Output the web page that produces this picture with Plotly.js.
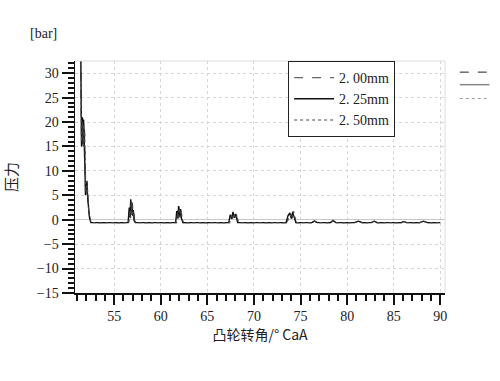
<!DOCTYPE html>
<html><head><meta charset="utf-8">
<script src="https://cdn.plot.ly/plotly-3.0.1.min.js"></script>
<style>html,body{margin:0;padding:0;background:#fff}#chart{width:500px;height:381px}</style>
</head><body><div id="chart"></div>
<script>
// Series names
const seriesNames = ['2. 00mm', '2. 25mm', '2. 50mm'];

// 2.00mm (dashed)
const x200 = [51.42,51.5,51.6,51.66,51.72,51.77,51.82,51.88,51.94,52.0,52.05,52.1,52.16,52.24,52.36,52.5,
  56.55,56.64,56.72,56.8,56.87,56.94,57.0,57.08,57.18,57.3,
  61.65,61.75,61.85,61.95,62.05,62.15,62.25,62.4,
  67.35,67.5,67.65,67.8,67.95,68.1,68.3,
  73.5,73.7,73.9,74.05,74.2,74.35,74.55,
  76.2,76.5,76.8,78.2,78.5,78.8,80.8,81.2,81.6,82.6,82.9,83.2,85.8,86.1,86.4,87.8,88.2,88.6,90.0];
const y200 = [34,16,20.5,15,20,15.5,18.5,12,6,8,5,7.5,5,2.5,0.8,-0.6,
  -0.6,2,0.3,3.5,1,3,0.5,1.5,-0.3,-0.6,
  -0.6,1.5,0.2,2.6,0.5,2,0.2,-0.6,
  -0.6,0.8,0.1,1.5,0.3,1,-0.6,
  -0.6,0.6,1.1,0.2,2.0,0.5,-0.6,
  -0.6,-0.2,-0.6,-0.6,-0.1,-0.6,-0.6,-0.2,-0.6,-0.6,-0.2,-0.6,-0.6,-0.3,-0.6,-0.6,-0.2,-0.6,-0.6];

// 2.25mm (solid)
const x225 = [51.42,51.5,51.6,51.66,51.72,51.76,51.8,51.86,51.92,51.98,52.03,52.08,52.14,52.22,52.35,52.5,
  56.5,56.62,56.7,56.78,56.85,56.92,56.98,57.05,57.15,57.28,
  61.6,61.72,61.82,61.92,62.02,62.12,62.22,62.38,
  67.3,67.45,67.6,67.75,67.9,68.05,68.25,
  73.45,73.65,73.85,74.0,74.15,74.3,74.5,
  76.2,76.5,76.8,78.2,78.5,78.8,80.8,81.2,81.6,82.6,82.9,83.2,85.8,86.1,86.4,87.8,88.2,88.6,90.0];
const y225 = [34,15,21,15.5,20.5,15,19,11,5,7,5.5,8,5,2.5,0.5,-0.6,
  -0.6,2.5,0.5,4.2,1.5,3.5,0.8,2,-0.2,-0.6,
  -0.6,1.8,0.3,2.8,0.6,2.2,0.3,-0.6,
  -0.6,1.0,0.2,1.6,0.4,1.2,-0.6,
  -0.6,0.8,1.4,0.3,1.5,0.4,-0.6,
  -0.6,-0.3,-0.6,-0.6,-0.2,-0.6,-0.6,-0.3,-0.6,-0.6,-0.3,-0.6,-0.6,-0.4,-0.6,-0.6,-0.3,-0.6,-0.6];

// 2.50mm (dotted)
const x250 = [51.42,51.5,51.6,51.66,51.72,51.78,51.84,51.9,51.96,52.02,52.07,52.12,52.18,52.26,52.38,52.52,
  56.58,56.68,56.76,56.83,56.9,56.97,57.04,57.12,57.22,57.32,
  61.7,61.8,61.9,62.0,62.1,62.2,62.3,62.45,
  67.4,67.55,67.7,67.85,68.0,68.15,68.35,
  73.55,73.75,73.95,74.1,74.25,74.4,74.6,
  76.2,76.5,76.8,78.2,78.5,78.8,80.8,81.2,81.6,82.6,82.9,83.2,85.8,86.1,86.4,87.8,88.2,88.6,90.0];
const y250 = [34,16,20,15,19.5,15,18,10,5.5,7,5,7,4.5,2,0.5,-0.6,
  -0.6,1.8,0.3,3.8,1.2,3.2,0.5,1.5,-0.3,-0.6,
  -0.6,1.4,0.2,2.4,0.4,1.8,0.1,-0.6,
  -0.6,0.7,0.1,1.3,0.2,0.9,-0.6,
  -0.6,0.5,1.0,0.2,1.7,0.4,-0.6,
  -0.6,-0.3,-0.6,-0.6,-0.2,-0.6,-0.6,-0.3,-0.6,-0.6,-0.3,-0.6,-0.6,-0.3,-0.6,-0.6,-0.3,-0.6,-0.6];

const xTickVals = [55,60,65,70,75,80,85,90];
const yTickVals = [-15,-10,-5,0,5,10,15,20,25,30];

const serif = 'Liberation Serif';

const traces = [
  {x:x200, y:y200, name:seriesNames[0], mode:'lines', line:{color:'#666', width:1.2, dash:'dash'}},
  {x:x225, y:y225, name:seriesNames[1], mode:'lines', line:{color:'#111', width:1.4, dash:'solid'}},
  {x:x250, y:y250, name:seriesNames[2], mode:'lines', line:{color:'#444', width:1.2, dash:'dot'}}
];

const layout = {
  width:500, height:381,
  margin:{l:75, r:55, t:61, b:88},
  paper_bgcolor:'#fff', plot_bgcolor:'#fff',
  font:{family:serif, size:14, color:'#222'},
  showlegend:true,
  legend:{x:0.576, y:1, xanchor:'left', yanchor:'top', bgcolor:'#fff', bordercolor:'#222', borderwidth:1,
    font:{family:serif, size:14, color:'#222'}, tracegroupgap:0, itemwidth:40},
  xaxis:{range:[50.8,90.5], tickvals:xTickVals, ticks:'outside', ticklen:10, tickwidth:2, tickcolor:'#111',
    showline:true, linecolor:'#111', linewidth:1.5, showgrid:true, gridcolor:'#d6d6d6', griddash:'dot', gridwidth:1,
    zeroline:false, tickfont:{family:serif, size:14, color:'#222'},
    minor:{dtick:1, tick0:0, ticks:'outside', ticklen:6, tickwidth:2, tickcolor:'#111', showgrid:false},
    title:{text:'凸轮转角/° CaA', font:{family:'Noto Sans CJK SC', size:14, color:'#222'}, standoff:4}},
  yaxis:{range:[-15,32.5], tickvals:yTickVals, ticks:'outside', ticklen:12, tickwidth:2, tickcolor:'#111',
    showline:true, linecolor:'#111', linewidth:1.5, showgrid:true, gridcolor:'#d6d6d6', griddash:'dot', gridwidth:1,
    zeroline:true, zerolinecolor:'#c8c8c8', zerolinewidth:1, tickfont:{family:serif, size:14, color:'#222'},
    minor:{dtick:1, tick0:0, ticks:'outside', ticklen:6, tickwidth:2, tickcolor:'#111', showgrid:false},
    title:{text:'压力', font:{family:'Noto Sans CJK SC', size:15, color:'#222'}, standoff:18}},
  shapes:[
    {type:'line', xref:'paper', yref:'paper', x0:0, x1:1, y0:1, y1:1, line:{color:'#ddd', width:1}},
    {type:'line', xref:'paper', yref:'paper', x0:1, x1:1, y0:0, y1:1, line:{color:'#ddd', width:1}},
    {type:'line', xref:'paper', yref:'paper', x0:1.04, x1:1.12, y0:0.952, y1:0.952, line:{color:'#222', width:1, dash:'dash'}},
    {type:'line', xref:'paper', yref:'paper', x0:1.04, x1:1.12, y0:0.898, y1:0.898, line:{color:'#888', width:1.5}},
    {type:'line', xref:'paper', yref:'paper', x0:1.04, x1:1.12, y0:0.838, y1:0.838, line:{color:'#999', width:1, dash:'dot'}}
  ],
  annotations:[
    {text:'[bar]', xref:'paper', yref:'paper', x:-0.086, y:1.12, xanchor:'center', yanchor:'middle', showarrow:false,
     font:{family:serif, size:14, color:'#222'}}
  ]
};

Plotly.newPlot('chart', traces, layout, {displayModeBar:false, staticPlot:true});
</script></body></html>
